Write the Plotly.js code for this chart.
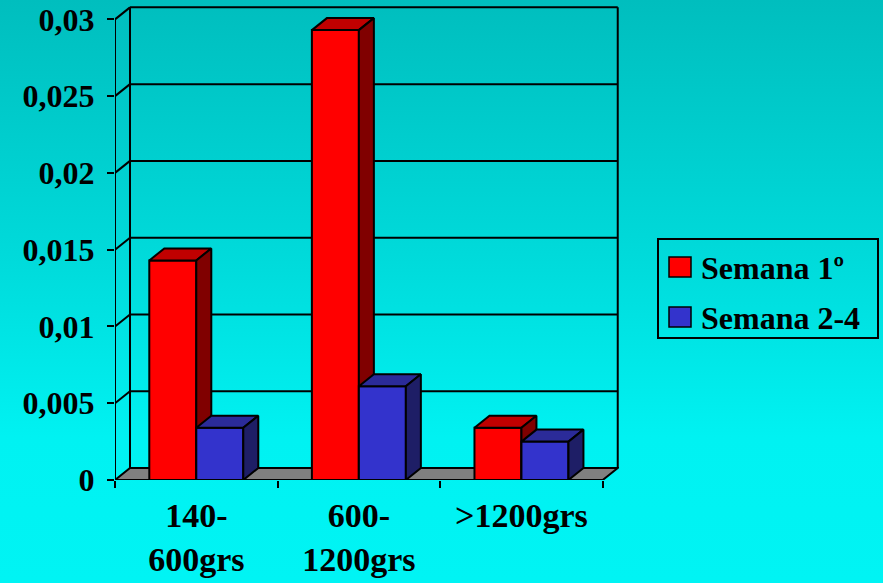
<!DOCTYPE html>
<html>
<head>
<meta charset="utf-8">
<script src="https://cdn.plot.ly/plotly-3.0.1.min.js"></script>
<style>
  html, body { margin: 0; padding: 0; }
  body { width: 883px; height: 583px; overflow: hidden;
         background: linear-gradient(to bottom, #00BEBE 0%, #00DBDB 45%, #00F2F2 75%, #00F4F4 100%); }
  #chart { width: 883px; height: 583px; }
</style>
</head>
<body>
<div id="chart"></div>
<script>
// ---- data ----
const categories = ['140-<br>600grs', '600-<br>1200grs', '>1200grs'];
const semana1 = [0.0143, 0.0293, 0.0034];
const semana24 = [0.0034, 0.0061, 0.0025];
const seriesNames = ['Semana 1º', 'Semana 2-4'];
const yTickVals = [0, 0.005, 0.01, 0.015, 0.02, 0.025, 0.03];
const yTickText = ['0', '0,005', '0,01', '0,015', '0,02', '0,025', '0,03'];

// ---- geometry / style ----
const W = 883, H = 583, ML = 115, MR = 264, MT = 4, MB = 103;
const xMax = 3.1, yMax = 0.031;
const pw = W - ML - MR, ph = H - MT - MB;
const DX = 15 * xMax / pw, DY = 12 * yMax / ph;   // 3D depth offset in data units
const BW = 0.289;
const FONT = 'Liberation Serif, Times New Roman, serif';
const colors = {
  red:  { front: '#FF0000', top: '#C00000', side: '#800000' },
  blue: { front: '#3333CC', top: '#2B2B99', side: '#1E1E66' }
};
const nCat = categories.length;
const xc = categories.map((_, i) => i + 0.5);
const yTop = yTickVals[yTickVals.length - 1];

function seriesTraces(vals, off, col, name, xa, ya) {
  const tx = [], ty = [], sx = [], sy = [];
  vals.forEach((v, i) => {
    const x0 = xc[i] + off, x1 = x0 + BW;
    tx.push(x0, x1, x1 + DX, x0 + DX, x0, null);
    ty.push(v, v, v + DY, v + DY, v, null);
    sx.push(x1, x1, x1 + DX, x1 + DX, x1, null);
    sy.push(0, v, v + DY, DY, 0, null);
  });
  const ln = { color: '#000', width: 2 };
  return [
    { type: 'bar', name: name, x: xc, y: vals, width: BW, offset: off,
      marker: { color: col.front, line: ln }, xaxis: xa, yaxis: ya,
      hoverinfo: 'skip', showlegend: false },
    { type: 'scatter', mode: 'lines', x: tx, y: ty, fill: 'toself', fillcolor: col.top,
      line: ln, xaxis: xa, yaxis: ya, hoverinfo: 'skip', showlegend: false },
    { type: 'scatter', mode: 'lines', x: sx, y: sy, fill: 'toself', fillcolor: col.side,
      line: ln, xaxis: xa, yaxis: ya, hoverinfo: 'skip', showlegend: false }
  ];
}

const data = [
  ...seriesTraces(semana1, -BW, colors.red, seriesNames[0], 'x', 'y'),
  ...seriesTraces(semana24, 0, colors.blue, seriesNames[1], 'x2', 'y2')
];

// ---- walls, floor, gridlines ----
const shapes = [];
const L2 = { color: '#000', width: 2 };
function seg(x0, y0, x1, y1) {
  shapes.push({ type: 'line', xref: 'x', yref: 'y', x0, y0, x1, y1, line: L2, layer: 'below' });
}
shapes.push({ type: 'path', xref: 'x', yref: 'y', layer: 'below',
  path: `M0,0 L${nCat},0 L${nCat + DX},${DY} L${DX},${DY} Z`,
  fillcolor: '#808080', line: L2 });
yTickVals.forEach(t => {
  if (t > 0) {
    seg(DX, t + DY, nCat + DX, t + DY);
    seg(0, t, DX, t + DY);
  }
});
seg(0, 0, 0, yTop);
seg(DX, DY, DX, yTop + DY);
seg(nCat + DX, DY, nCat + DX, yTop + DY);

// ---- custom legend (pixel -> paper) ----
const px = v => (v - ML) / pw;
const py = v => (H - MB - v) / ph;
const annotations = [];
shapes.push({ type: 'rect', xref: 'paper', yref: 'paper',
  x0: px(658), x1: px(878), y0: py(239), y1: py(338), line: L2, fillcolor: 'rgba(0,0,0,0)' });
[[colors.red.front, 257, seriesNames[0]], [colors.blue.front, 307, seriesNames[1]]].forEach(([c, top, nm]) => {
  shapes.push({ type: 'rect', xref: 'paper', yref: 'paper',
    x0: px(669), x1: px(691), y0: py(top), y1: py(top + 20),
    fillcolor: c, line: { color: '#000', width: 1.5 } });
  annotations.push({ xref: 'paper', yref: 'paper', x: px(699), y: py(top + 11),
    xanchor: 'left', yanchor: 'middle', text: nm, showarrow: false,
    font: { family: FONT, size: 32, color: '#000', weight: 'bold' } });
});

const layout = {
  width: W, height: H,
  margin: { l: ML, r: MR, t: MT, b: MB, pad: 0, autoexpand: false },
  paper_bgcolor: 'rgba(0,0,0,0)', plot_bgcolor: 'rgba(0,0,0,0)',
  showlegend: false,
  barmode: 'overlay',
  xaxis: { range: [0, xMax], tickmode: 'array', tickvals: xc, ticktext: categories,
    ticks: '', showgrid: false, zeroline: false, showline: false, fixedrange: true,
    ticklabelstandoff: 12,
    tickfont: { family: FONT, size: 34, color: '#000', weight: 'bold' },
    minor: { tickmode: 'array', tickvals: [0, 1, 2, 3], ticks: 'outside', ticklen: 7,
             tickwidth: 2, tickcolor: '#000', showgrid: false } },
  yaxis: { range: [0, yMax], tickmode: 'array', tickvals: yTickVals, ticktext: yTickText,
    ticks: 'outside', ticklen: 7, tickwidth: 2, tickcolor: '#000',
    showgrid: false, zeroline: false, showline: false, fixedrange: true,
    ticklabelstandoff: 6,
    tickfont: { family: FONT, size: 32, color: '#000', weight: 'bold' } },
  xaxis2: { range: [0, xMax], overlaying: 'x', anchor: 'y2', visible: false, fixedrange: true },
  yaxis2: { range: [0, yMax], overlaying: 'y', anchor: 'x2', visible: false, fixedrange: true },
  shapes: shapes,
  annotations: annotations
};

Plotly.newPlot('chart', data, layout, { staticPlot: true, displayModeBar: false });
</script>
</body>
</html>
